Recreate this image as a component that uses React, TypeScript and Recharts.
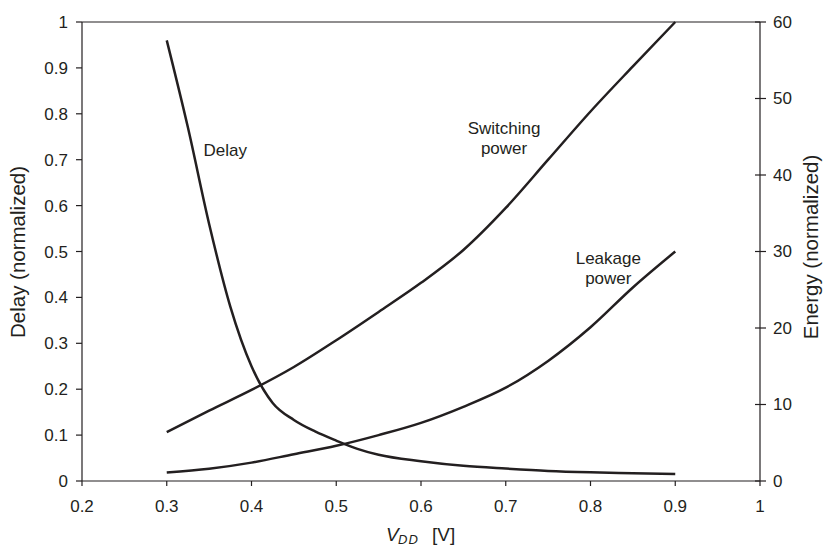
import { LineChart, Line, XAxis, YAxis, ReferenceLine, ReferenceDot } from 'recharts';

const ink = '#231f20';

// x axis ticks
const vddTicks = [0.2, 0.3, 0.4, 0.5, 0.6, 0.7, 0.8, 0.9, 1];
const delayTicks = [0, 0.1, 0.2, 0.3, 0.4, 0.5, 0.6, 0.7, 0.8, 0.9, 1];
const energyTicks = [0, 10, 20, 30, 40, 50, 60];

// delay curve (left axis, normalized)
const delayVdd = [0.3, 0.325, 0.35, 0.375, 0.4, 0.425, 0.45, 0.475, 0.5, 0.525, 0.55, 0.6, 0.65, 0.7, 0.75, 0.8, 0.85, 0.9];
const delayValues = [0.96, 0.77, 0.56, 0.38, 0.25, 0.17, 0.133, 0.108, 0.088, 0.07, 0.057, 0.043, 0.033, 0.027, 0.022, 0.019, 0.017, 0.015];

// energy curves (right axis)
const energyVdd = [0.3, 0.35, 0.4, 0.45, 0.5, 0.55, 0.6, 0.65, 0.7, 0.75, 0.8, 0.85, 0.9];
const switchingPower = [6.4, 9.2, 11.9, 14.9, 18.4, 22.1, 25.9, 30.2, 35.7, 42.0, 48.3, 54.2, 60];
const leakagePower = [1.1, 1.6, 2.4, 3.5, 4.6, 6.0, 7.6, 9.7, 12.2, 15.7, 20.1, 25.3, 30];

const delayData = delayVdd.map((x, i) => ({ x, y: delayValues[i] }));
const switchingData = energyVdd.map((x, i) => ({ x, y: switchingPower[i] }));
const leakageData = energyVdd.map((x, i) => ({ x, y: leakagePower[i] }));

const RightTick = (props: any) => {
  const { x, y, payload } = props;
  return (
    <g>
      <line x1={x - 18} x2={x - 7} y1={y} y2={y} stroke={ink} strokeWidth={1.2} />
      <text x={x} y={y} dy="0.35em" textAnchor="start" fill={ink} fontSize={17}>
        {payload.value}
      </text>
    </g>
  );
};

const curveLabel = { fill: ink, fontSize: 17, position: 'center' as const };

export default function App() {
  return (
    <div style={{ position: 'absolute', left: 0, top: 0, width: 826, height: 546, background: '#fff' }}>
      <LineChart
        width={826}
        height={546}
        margin={{ top: 22, right: 0, bottom: 0, left: 0 }}
        style={{ fontFamily: '"Liberation Sans", Arial, sans-serif' }}
      >
        <XAxis
          dataKey="x"
          type="number"
          domain={[0.2, 1]}
          ticks={vddTicks}
          allowDataOverflow
          height={65}
          tickSize={5}
          tickMargin={14}
          stroke={ink}
          strokeWidth={1.2}
          tick={{ fill: ink, fontSize: 17 }}
          label={() => (
            <g fill={ink}>
              <text x={386} y={541} fontSize={19} fontStyle="italic">V</text>
              <text x={398} y={544} fontSize={13} fontStyle="italic" letterSpacing={1}>DD</text>
              <text x={432} y={541} fontSize={19}>[V]</text>
            </g>
          )}
        />
        <YAxis
          yAxisId="left"
          domain={[0, 1]}
          ticks={delayTicks}
          width={82}
          tickSize={6}
          tickMargin={8}
          stroke={ink}
          strokeWidth={1.2}
          tick={{ fill: ink, fontSize: 17 }}
          label={() => (
            <text x={25} y={252} fill={ink} fontSize={20.5} textAnchor="middle" transform="rotate(-90 25 252)">
              Delay (normalized)
            </text>
          )}
        />
        <YAxis
          yAxisId="right"
          orientation="right"
          domain={[0, 60]}
          ticks={energyTicks}
          width={66}
          tickSize={6}
          tickMargin={7}
          tickLine={false}
          stroke={ink}
          strokeWidth={1.2}
          tick={<RightTick />}
          label={() => (
            <text x={818} y={247} fill={ink} fontSize={20.5} textAnchor="middle" transform="rotate(-90 818 247)">
              Energy (normalized)
            </text>
          )}
        />
        <ReferenceLine yAxisId="left" y={1} stroke={ink} strokeWidth={1.2} />
        <Line
          yAxisId="left"
          data={delayData}
          dataKey="y"
          type="monotone"
          stroke={ink}
          strokeWidth={2.5}
          dot={false}
          isAnimationActive={false}
        />
        <Line
          yAxisId="right"
          data={switchingData}
          dataKey="y"
          type="monotone"
          stroke={ink}
          strokeWidth={2.5}
          dot={false}
          isAnimationActive={false}
        />
        <Line
          yAxisId="right"
          data={leakageData}
          dataKey="y"
          type="monotone"
          stroke={ink}
          strokeWidth={2.5}
          dot={false}
          isAnimationActive={false}
        />
        <ReferenceDot yAxisId="left" x={0.369} y={0.721} r={1} fill="none" stroke="none" label={{ value: 'Delay', ...curveLabel }} />
        <ReferenceDot yAxisId="left" x={0.698} y={0.769} r={1} fill="none" stroke="none" label={{ value: 'Switching', ...curveLabel }} />
        <ReferenceDot yAxisId="left" x={0.698} y={0.725} r={1} fill="none" stroke="none" label={{ value: 'power', ...curveLabel }} />
        <ReferenceDot yAxisId="left" x={0.821} y={0.486} r={1} fill="none" stroke="none" label={{ value: 'Leakage', ...curveLabel }} />
        <ReferenceDot yAxisId="left" x={0.821} y={0.442} r={1} fill="none" stroke="none" label={{ value: 'power', ...curveLabel }} />
      </LineChart>
    </div>
  );
}
